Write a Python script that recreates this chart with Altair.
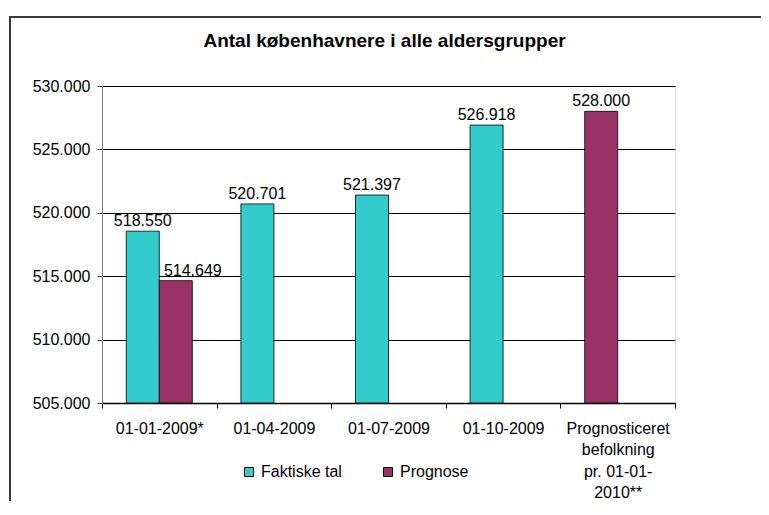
import altair as alt
import pandas as pd

FONT = "Liberation Sans"

title_text = "Antal københavnere i alle aldersgrupper"
categories = [
    "01-01-2009*",
    "01-04-2009",
    "01-07-2009",
    "01-10-2009",
    "Prognosticeret\nbefolkning\npr. 01-01-\n2010**",
]
faktiske = [518550, 520701, 521397, 526918, None]
prognose = [514649, None, None, None, 528000]
series_names = ["Faktiske tal", "Prognose"]
series_colors = ["#33CCCC", "#993366"]
y_ticks = [505000, 510000, 515000, 520000, 525000, 530000]

rows = []
for cat, f, p in zip(categories, faktiske, prognose):
    slot = 0
    if f is not None:
        rows.append({"kategori": cat, "serie": series_names[0], "antal": f, "slot": slot})
        slot += 1
    if p is not None:
        rows.append({"kategori": cat, "serie": series_names[1], "antal": p, "slot": slot})
df = pd.DataFrame(rows)

x_enc = alt.X(
    "kategori:N",
    sort=categories,
    scale=alt.Scale(paddingInner=0, paddingOuter=0),
    axis=alt.Axis(
        title=None,
        labelAngle=0,
        tickBand="extent",
        labelExpr="split(datum.label, '\\n')",
        labelLineHeight=21.5,
        labelPadding=12,
        tickSize=5,
        tickColor="#000000",
        domainColor="#000000",
        domainWidth=1.5,
        grid=False,
        labelFontSize=16,
        labelFont=FONT,
        labelColor="#000000",
    ),
)
xo_enc = alt.XOffset("slot:O", scale=alt.Scale(domain=[0, 1], paddingInner=0, paddingOuter=0.736))
y_enc = alt.Y(
    "antal:Q",
    stack=None,
    scale=alt.Scale(domain=[505000, 530000], nice=False, zero=False),
    axis=alt.Axis(
        title=None,
        values=y_ticks,
        labelExpr="replace(format(datum.value, ','), ',', '.')",
        tickSize=5,
        labelPadding=7,
        tickColor="#404040",
        domainColor="#808080",
        gridColor="#000000",
        gridWidth=1,
        labelFontSize=16,
        labelFont=FONT,
        labelColor="#000000",
    ),
)

base = alt.Chart(df)

bars = base.mark_bar(stroke="#000000", strokeWidth=0.8).encode(
    x=x_enc,
    xOffset=xo_enc,
    y=y_enc,
    color=alt.Color(
        "serie:N",
        scale=alt.Scale(domain=series_names, range=series_colors),
        legend=alt.Legend(
            title=None,
            orient="none",
            legendX=139,
            legendY=378,
            direction="horizontal",
            symbolType="square",
            symbolSize=81,
            symbolStrokeColor="#000000",
            symbolStrokeWidth=1,
            symbolOpacity=1,
            labelFontSize=16,
            labelFont=FONT,
            labelColor="#000000",
            labelOffset=4,
            columnPadding=38,
        ),
    ),
)

label_base = base.transform_calculate(
    etiket="replace(format(datum.antal, ','), ',', '.')"
)
label_enc = dict(
    x=alt.X("kategori:N", sort=categories),
    xOffset=alt.XOffset("slot:O"),
    y=alt.Y("antal:Q", stack=None),
    text="etiket:N",
)
labels_first = label_base.transform_filter("datum.slot == 0").mark_text(
    baseline="bottom", dy=-2, fontSize=16, font=FONT, color="#000000"
).encode(**label_enc)
labels_second = label_base.transform_filter("datum.slot == 1").mark_text(
    baseline="bottom", dy=-2, dx=17, fontSize=16, font=FONT, color="#000000"
).encode(**label_enc)

frame_data = alt.Data(values=[{"f": 1}])
frame_left = alt.Chart(frame_data).mark_rule(color="#3a3a3a", strokeWidth=2).encode(
    x=alt.value(-92), y=alt.value(-69), y2=alt.value(460)
)
frame_top = alt.Chart(frame_data).mark_rule(color="#3a3a3a", strokeWidth=2).encode(
    x=alt.value(-93), x2=alt.value(700), y=alt.value(-69)
)

chart = (
    alt.layer(bars, labels_first, labels_second, frame_left, frame_top)
    .properties(
        width=573,
        height=317,
        title=alt.TitleParams(
            title_text,
            fontSize=19,
            fontWeight="bold",
            font=FONT,
            color="#000000",
            anchor="middle",
            frame="group",
            baseline="bottom",
            offset=-54,
            dx=-4,
        ),
        autosize=alt.AutoSizeParams(type="none"),
        padding={"left": 94, "top": 78, "right": 86, "bottom": 98},
    )
    .configure_view(stroke="#808080", strokeWidth=1)
    .configure(background="#ffffff")
)

chart.save("out.html", embed_options={"renderer": "svg", "actions": False})
